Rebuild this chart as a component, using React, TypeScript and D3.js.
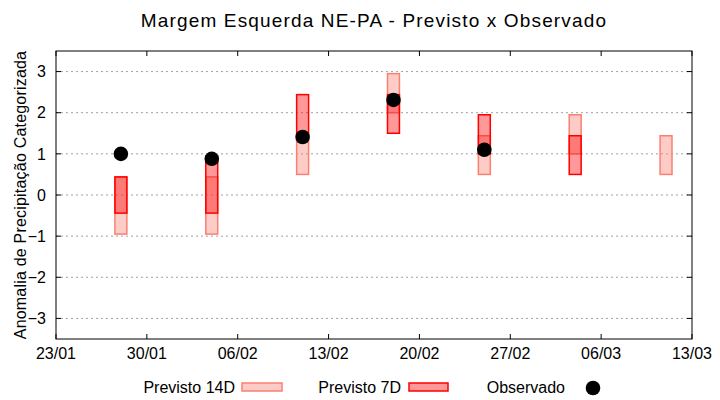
import * as d3 from 'd3';
import { useEffect, useRef } from 'react';

// datas das previsões (semanas)
const dates = ['2023-01-28', '2023-02-04', '2023-02-11', '2023-02-18', '2023-02-25', '2023-03-04', '2023-03-11'];
const prev14Low = [-0.95, -0.95, 0.5, 2.0, 0.5, 1.0, 0.5];
const prev14High = [0.44, 0.44, 1.44, 2.95, 1.44, 1.95, 1.44];
const prev7Low: (number | null)[] = [-0.44, -0.44, 1.44, 1.5, 1.0, 0.5, null];
const prev7High: (number | null)[] = [0.44, 0.95, 2.44, 2.44, 1.95, 1.44, null];
const observed: (number | null)[] = [1.0, 0.88, 1.41, 2.31, 1.1, null, null];
const yTicks = [-3, -2, -1, 0, 1, 2, 3];
const xTickLabels = ['23/01', '30/01', '06/02', '13/02', '20/02', '27/02', '06/03', '13/03'];

const parse = d3.utcParse('%Y-%m-%d');
const parseTick = (s: string) => d3.utcParse('%d/%m/%Y')(`${s}/2023`) as Date;

const W = 720;
const H = 400;
const m = { left: 56, right: 692, top: 51, bottom: 339 };
const FONT = '"Liberation Sans", Arial, sans-serif';

export default function App() {
  const ref = useRef<SVGSVGElement>(null);

  useEffect(() => {
    document.body.style.margin = '0';
    const svg = d3.select(ref.current);
    svg.selectAll('*').remove();

    const x = d3
      .scaleUtc()
      .domain([parseTick(xTickLabels[0]), parseTick(xTickLabels[xTickLabels.length - 1])])
      .range([m.left, m.right]);
    const y = d3.scaleLinear().domain([-3.5, 3.5]).range([m.bottom, m.top]);

    const halfDay = 0.46 * 24 * 3600 * 1000;
    const barX = (d: string) => x(new Date((parse(d) as Date).getTime() - halfDay));
    const barW = (d: string) =>
      x(new Date((parse(d) as Date).getTime() + halfDay)) - barX(d);

    // grade
    svg
      .append('g')
      .selectAll('line')
      .data(yTicks)
      .join('line')
      .attr('x1', m.left)
      .attr('x2', m.right)
      .attr('y1', (d) => y(d))
      .attr('y2', (d) => y(d))
      .attr('stroke', '#a0a0a0')
      .attr('stroke-width', 1)
      .attr('stroke-dasharray', '2,3');

    // previsto 14D
    svg
      .append('g')
      .selectAll('rect')
      .data(dates)
      .join('rect')
      .attr('x', (d) => barX(d))
      .attr('width', (d) => barW(d))
      .attr('y', (d, i) => y(prev14High[i]))
      .attr('height', (d, i) => y(prev14Low[i]) - y(prev14High[i]))
      .attr('fill', 'rgba(250,128,114,0.4)')
      .attr('stroke', '#fa8072')
      .attr('stroke-width', 1.5);

    // previsto 7D
    svg
      .append('g')
      .selectAll('rect')
      .data(dates.filter((d, i) => prev7High[i] !== null))
      .join('rect')
      .attr('x', (d) => barX(d))
      .attr('width', (d) => barW(d))
      .attr('y', (d) => y(prev7High[dates.indexOf(d)] as number))
      .attr(
        'height',
        (d) => y(prev7Low[dates.indexOf(d)] as number) - y(prev7High[dates.indexOf(d)] as number),
      )
      .attr('fill', 'rgba(255,0,0,0.4)')
      .attr('stroke', '#ff0000')
      .attr('stroke-width', 1.5);

    // observado
    svg
      .append('g')
      .selectAll('circle')
      .data(dates.filter((d, i) => observed[i] !== null))
      .join('circle')
      .attr('cx', (d) => x(parse(d) as Date))
      .attr('cy', (d) => y(observed[dates.indexOf(d)] as number))
      .attr('r', 7.3)
      .attr('fill', '#000');

    // moldura
    svg
      .append('rect')
      .attr('x', m.left)
      .attr('y', m.top)
      .attr('width', m.right - m.left)
      .attr('height', m.bottom - m.top)
      .attr('fill', 'none')
      .attr('stroke', '#000')
      .attr('stroke-width', 1);

    const tickLen = 5;
    const ticks = svg.append('g').attr('stroke', '#000').attr('stroke-width', 1);
    yTicks.forEach((t) => {
      ticks.append('line').attr('x1', m.left).attr('x2', m.left + tickLen).attr('y1', y(t)).attr('y2', y(t));
      ticks.append('line').attr('x1', m.right).attr('x2', m.right - tickLen).attr('y1', y(t)).attr('y2', y(t));
    });
    xTickLabels.forEach((t) => {
      const px = x(parseTick(t));
      ticks.append('line').attr('x1', px).attr('x2', px).attr('y1', m.bottom).attr('y2', m.bottom - tickLen);
      ticks.append('line').attr('x1', px).attr('x2', px).attr('y1', m.top).attr('y2', m.top + tickLen);
    });

    const text = svg.append('g').attr('font-family', FONT).attr('fill', '#000');

    text
      .selectAll('text.yt')
      .data(yTicks)
      .join('text')
      .attr('class', 'yt')
      .attr('x', m.left - 10)
      .attr('y', (d) => y(d))
      .attr('dy', '0.36em')
      .attr('text-anchor', 'end')
      .attr('font-size', 16)
      .text((d) => d3.format('d')(d));

    text
      .selectAll('text.xt')
      .data(xTickLabels)
      .join('text')
      .attr('class', 'xt')
      .attr('x', (d) => x(parseTick(d)))
      .attr('y', 359)
      .attr('text-anchor', 'middle')
      .attr('font-size', 16)
      .text((d) => d);

    text
      .append('text')
      .attr('x', (m.left + m.right) / 2)
      .attr('y', 27)
      .attr('text-anchor', 'middle')
      .attr('font-size', 19)
      .attr('letter-spacing', 1.15)
      .text('Margem Esquerda NE-PA - Previsto x Observado');

    text
      .append('text')
      .attr('transform', `translate(26,${(m.top + m.bottom) / 2}) rotate(-90)`)
      .attr('text-anchor', 'middle')
      .attr('font-size', 16)
      .attr('letter-spacing', 0.2)
      .text('Anomalia de Precipitação Categorizada');

    // legenda
    const leg = svg.append('g').attr('font-family', FONT).attr('font-size', 16);
    const legY = 387;
    leg.append('text').attr('x', 235).attr('y', legY).attr('dy', '0.36em').attr('text-anchor', 'end').text('Previsto 14D');
    leg
      .append('rect')
      .attr('x', 242)
      .attr('y', legY - 4)
      .attr('width', 40)
      .attr('height', 8)
      .attr('fill', 'rgba(250,128,114,0.4)')
      .attr('stroke', '#fa8072')
      .attr('stroke-width', 1.5);
    leg.append('text').attr('x', 401).attr('y', legY).attr('dy', '0.36em').attr('text-anchor', 'end').text('Previsto 7D');
    leg
      .append('rect')
      .attr('x', 409)
      .attr('y', legY - 4)
      .attr('width', 39)
      .attr('height', 8)
      .attr('fill', 'rgba(255,0,0,0.4)')
      .attr('stroke', '#ff0000')
      .attr('stroke-width', 1.5);
    leg.append('text').attr('x', 565).attr('y', legY).attr('dy', '0.36em').attr('text-anchor', 'end').text('Observado');
    leg.append('circle').attr('cx', 593).attr('cy', legY + 1).attr('r', 7.3).attr('fill', '#000');
  }, []);

  return <svg ref={ref} width={W} height={H} style={{ display: 'block', background: '#fff' }} />;
}
